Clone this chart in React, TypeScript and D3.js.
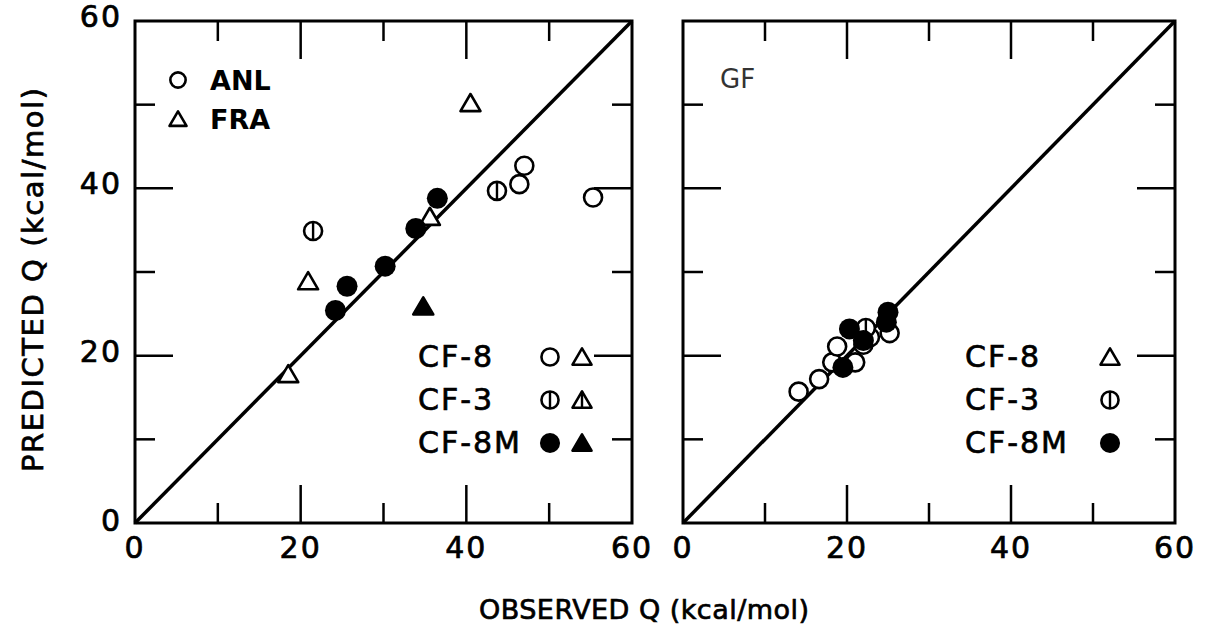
import * as d3 from 'd3';
import { useRef, useEffect } from 'react';

// --- data ---
const tickValues = [10, 20, 30, 40, 50];
const majorTicks = [20, 40];
const labelValues = [0, 20, 40, 60];

// left panel (ANL / FRA)
const anlCF8 = [[46.4, 40.5], [47.0, 42.7], [55.3, 38.9]];
const anlCF3 = [[21.5, 34.9], [43.7, 39.7]];
const anlCF8M = [[24.2, 25.4], [25.6, 28.3], [30.2, 30.7], [33.9, 35.2], [36.5, 38.8]];
const fraCF8 = [[40.5, 50.2], [20.9, 28.9], [18.5, 17.8], [35.6, 36.6]];
const fraCF8M = [[34.8, 25.9]];

// right panel (GF)
const gfCF8 = [[14.1, 15.7], [16.6, 17.2], [18.2, 19.2], [18.8, 21.1], [21.0, 19.2], [22.0, 21.3], [22.8, 22.2], [25.2, 22.7]];
const gfCF3 = [[22.3, 23.3]];
const gfCF8M = [[19.5, 18.6], [20.3, 23.2], [22.0, 21.8], [24.8, 24.0], [25.0, 25.2]];

const leftLegend = [
  { label: "CF-8", syms: ["o", "t"] },
  { label: "CF-3", syms: ["obar", "tbar"] },
  { label: "CF-8M", syms: ["f", "tf"] },
];
const rightLegend = [
  { label: "CF-8", syms: ["t"] },
  { label: "CF-3", syms: ["obar"] },
  { label: "CF-8M", syms: ["f"] },
];

const FONT = "'DejaVu Sans', sans-serif";

function symbol(g, type, cx, cy, s = 1) {
  const r = 9 * s;
  if (type === "o" || type === "obar") {
    g.append("circle").attr("cx", cx).attr("cy", cy).attr("r", r)
      .attr("fill", "#fff").attr("stroke", "#000").attr("stroke-width", 2.6);
    if (type === "obar") {
      g.append("line").attr("x1", cx).attr("x2", cx).attr("y1", cy - r).attr("y2", cy + r)
        .attr("stroke", "#000").attr("stroke-width", 2.4);
    }
  } else if (type === "f") {
    g.append("circle").attr("cx", cx).attr("cy", cy).attr("r", r + 1.5).attr("fill", "#000");
  } else {
    const w = 10 * s, h = 9 * s;
    const pts = `${cx},${cy - h} ${cx - w},${cy + h * 0.9} ${cx + w},${cy + h * 0.9}`;
    g.append("polygon").attr("points", pts)
      .attr("fill", type === "tf" ? "#000" : "#fff")
      .attr("stroke", "#000").attr("stroke-width", 2.6).attr("stroke-linejoin", "round");
    if (type === "tbar") {
      g.append("line").attr("x1", cx).attr("x2", cx).attr("y1", cy - h).attr("y2", cy + h * 0.9)
        .attr("stroke", "#000").attr("stroke-width", 2.4);
    }
  }
}

export default function App() {
  const ref = useRef();

  useEffect(() => {
    const width = 1207, height = 627;
    const svg = d3.select(ref.current)
      .attr("width", width).attr("height", height)
      .style("font-family", FONT);
    svg.selectAll("*").remove();

    const y = d3.scaleLinear().domain([0, 60]).range([523, 21]);
    const xL = d3.scaleLinear().domain([0, 60]).range([135, 632]);
    const xR = d3.scaleLinear().domain([0, 60]).range([683, 1175]);

    // heavier lettering, like the stencilled original
    const ink = t => t.attr("fill", "#000").attr("stroke", "#000").attr("stroke-width", 0.7);

    const panel = (x) => {
      const g = svg.append("g");
      const [x0, x1] = x.range();
      const [y0, y1] = y.range();
      // frame
      g.append("rect").attr("x", x0).attr("y", y1).attr("width", x1 - x0).attr("height", y0 - y1)
        .attr("fill", "none").attr("stroke", "#000").attr("stroke-width", 3);
      const len = v => majorTicks.includes(v) ? 38 : 20;
      tickValues.forEach(v => {
        g.append("line").attr("x1", x(v)).attr("x2", x(v)).attr("y1", y0).attr("y2", y0 - len(v));
        g.append("line").attr("x1", x(v)).attr("x2", x(v)).attr("y1", y1).attr("y2", y1 + len(v));
        g.append("line").attr("y1", y(v)).attr("y2", y(v)).attr("x1", x0).attr("x2", x0 + len(v));
        g.append("line").attr("y1", y(v)).attr("y2", y(v)).attr("x1", x1).attr("x2", x1 - len(v));
      });
      g.selectAll("line").attr("stroke", "#000").attr("stroke-width", 2.5);
      // 1:1 line
      g.append("line").attr("x1", x(0)).attr("y1", y(0)).attr("x2", x(60)).attr("y2", y(60))
        .attr("stroke", "#000").attr("stroke-width", 3.5);
      // x tick labels
      labelValues.forEach(v => {
        ink(g.append("text").attr("x", x(v)).attr("y", 558)
          .attr("text-anchor", "middle").attr("font-size", 30).attr("letter-spacing", 2)
          .text(v));
      });
      return g;
    };

    const gL = panel(xL);
    const gR = panel(xR);

    // y tick labels (left panel only)
    labelValues.forEach(v => {
      ink(svg.append("text").attr("x", 122).attr("y", y(v) + (v === 0 ? 8 : 6))
        .attr("text-anchor", "end").attr("font-size", 30).attr("letter-spacing", 2)
        .text(v));
    });

    // points, left
    fraCF8.forEach(d => symbol(gL, "t", xL(d[0]), y(d[1])));
    fraCF8M.forEach(d => symbol(gL, "tf", xL(d[0]), y(d[1])));
    anlCF8.forEach(d => symbol(gL, "o", xL(d[0]), y(d[1])));
    anlCF3.forEach(d => symbol(gL, "obar", xL(d[0]), y(d[1])));
    anlCF8M.forEach(d => symbol(gL, "f", xL(d[0]), y(d[1])));

    // points, right
    gfCF8.forEach(d => symbol(gR, "o", xR(d[0]), y(d[1])));
    gfCF3.forEach(d => symbol(gR, "obar", xR(d[0]), y(d[1])));
    gfCF8M.forEach(d => symbol(gR, "f", xR(d[0]), y(d[1])));

    // ANL / FRA key
    symbol(svg, "o", 178, 80, 0.85);
    svg.append("text").attr("x", 210).attr("y", 90).attr("font-size", 27).attr("font-weight", "bold").text("ANL");
    symbol(svg, "t", 178, 119, 0.85);
    svg.append("text").attr("x", 210).attr("y", 129).attr("font-size", 27).attr("font-weight", "bold").text("FRA");

    // GF label
    svg.append("text").attr("x", 720).attr("y", 88).attr("font-size", 26).attr("fill", "#333").text("GF");

    // alloy keys
    const legend = (items, tx, sx) => {
      items.forEach((it, i) => {
        const cy = 357 + i * 43;
        ink(svg.append("text").attr("x", tx).attr("y", cy + 10).attr("font-size", 30)
          .attr("letter-spacing", 2).text(it.label));
        it.syms.forEach((s, j) => symbol(svg, s, sx + j * 32, cy, 0.95));
      });
    };
    legend(leftLegend, 418, 550);
    legend(rightLegend, 965, 1110);

    // axis titles
    ink(svg.append("text").attr("transform", `translate(43,280) rotate(-90)`)
      .attr("text-anchor", "middle").attr("font-size", 29)
      .attr("textLength", 384).attr("lengthAdjust", "spacing")
      .text("PREDICTED Q (kcal/mol)"));
    ink(svg.append("text").attr("x", 644).attr("y", 619)
      .attr("text-anchor", "middle").attr("font-size", 27)
      .attr("textLength", 330).attr("lengthAdjust", "spacing")
      .text("OBSERVED Q (kcal/mol)"));
  }, []);

  return (
    <div style={{ position: "absolute", left: 0, top: 0, background: "#fff" }}>
      <svg ref={ref}></svg>
    </div>
  );
}
